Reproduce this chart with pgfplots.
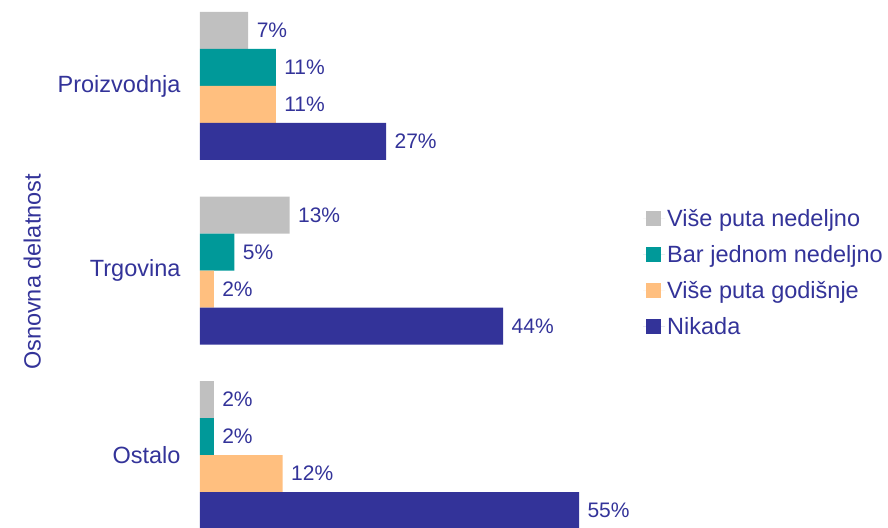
\documentclass[border=0pt]{standalone}
\usepackage{pgfplots}
\pgfplotsset{compat=1.18}
\usepackage{fontspec}
\setmainfont{Liberation Sans}
\definecolor{cGray}{HTML}{C0C0C0}
\definecolor{cTeal}{HTML}{009999}
\definecolor{cPeach}{HTML}{FFBF7F}
\definecolor{cNavy}{HTML}{333399}

\begin{document}
\begin{tikzpicture}
\begin{axis}[
  name=ax,
  xbar,
  scale only axis,
  width=379pt, height=527pt,
  xmin=0, xmax=55,
  ymin=-0.39, ymax=2.466,
  bar width=37pt,
  axis line style={draw=none},
  xtick=\empty,
  ytick={0,1,2},
  yticklabels={Ostalo,Trgovina,Proizvodnja},
  major tick length=0pt,
  yticklabel style={font=\fontsize{23.5}{28}\selectfont, text=cNavy, xshift=-16pt},
  ylabel={Osnovna delatnost},
  every axis y label/.style={at={(axis description cs:-0.443,0.484)}, rotate=90, anchor=center,
    font=\fontsize{23.5}{28}\selectfont, text=cNavy},
  nodes near coords={\pgfmathprintnumber{\pgfplotspointmeta}\%},
  point meta=x,
  every node near coord/.append style={font=\fontsize{21}{25}\selectfont, text=cNavy, anchor=west, xshift=5pt},
  /pgf/number format/assume math mode=true,
  legend style={at={(axis description cs:1.161,0.611)}, anchor=north west, draw=none, fill=none,
    font=\fontsize{23.5}{28}\selectfont, text=cNavy, row sep=13.5pt},
  legend cell align=left,
  legend image code/.code={\draw[#1,draw=none] (3pt,-7pt) rectangle (18pt,8pt); \path (0pt,0pt) -- (22pt,0pt);},
  clip=false,
]
\addplot[fill=cGray, draw=none, bar shift=55.5pt] coordinates {(7,2) (13,1) (2,0)};
\addlegendentry{Više puta nedeljno}
\addplot[fill=cTeal, draw=none, bar shift=18.5pt] coordinates {(11,2) (5,1) (2,0)};
\addlegendentry{Bar jednom nedeljno}
\addplot[fill=cPeach, draw=none, bar shift=-18.5pt] coordinates {(11,2) (2,1) (12,0)};
\addlegendentry{Više puta godišnje}
\addplot[fill=cNavy, draw=none, bar shift=-55.5pt] coordinates {(27,2) (44,1) (55,0)};
\addlegendentry{Nikada}
\end{axis}
\pgfresetboundingbox
\path ([xshift=-200pt]ax.south west) rectangle ([xshift=309pt]ax.north east);
\end{tikzpicture}
\end{document}
